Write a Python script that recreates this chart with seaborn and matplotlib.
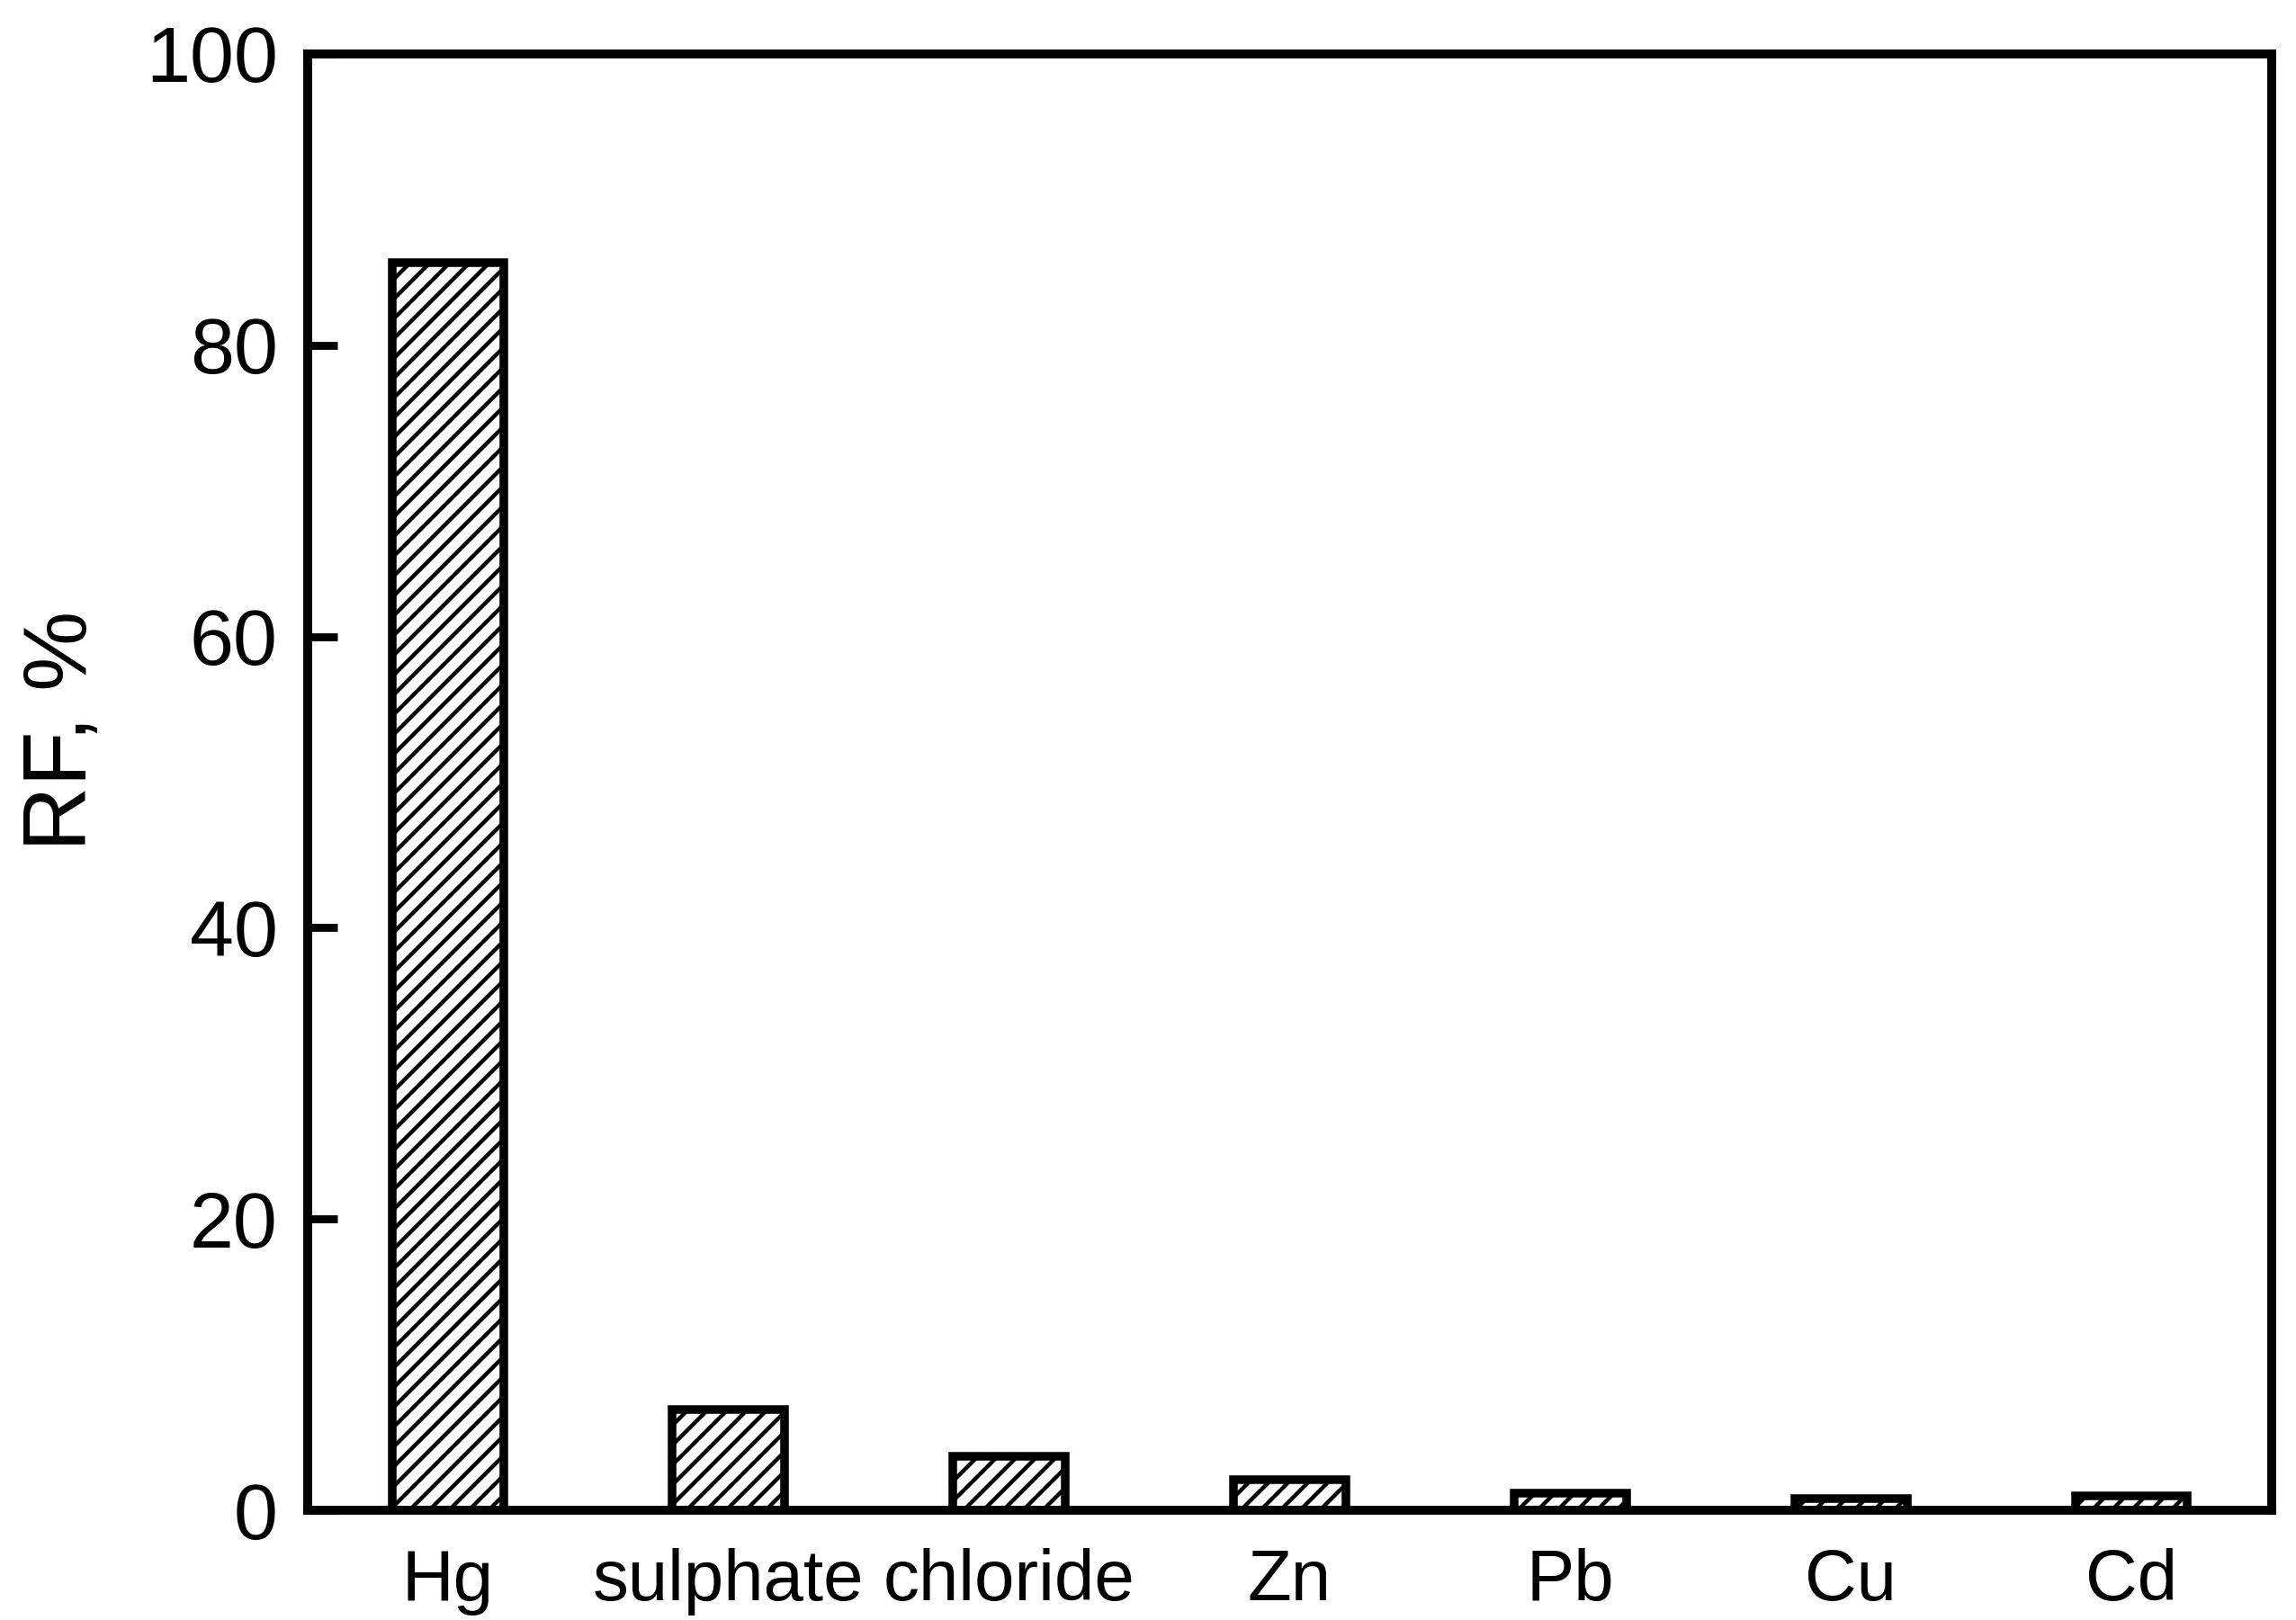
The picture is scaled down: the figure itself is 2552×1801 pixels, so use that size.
import numpy as np
import pandas as pd
import seaborn as sns
import matplotlib
matplotlib.use('Agg')
import matplotlib.pyplot as plt

# values
categories = ['Hg', 'sulphate', 'chloride', 'Zn', 'Pb', 'Cu', 'Cd']
rf_values = [85.7, 6.9, 3.7, 2.1, 1.2, 0.8, 1.0]
y_ticks = [0, 20, 40, 60, 80, 100]

df = pd.DataFrame({'item': categories, 'RF': rf_values})

sns.set_style('ticks')
plt.rcParams['font.family'] = ['Liberation Sans', 'DejaVu Sans']
plt.rcParams['hatch.linewidth'] = 1.2
plt.rcParams['hatch.color'] = 'black'
plt.rcParams['text.color'] = 'black'
plt.rcParams['axes.labelcolor'] = 'black'
plt.rcParams['xtick.color'] = 'black'
plt.rcParams['ytick.color'] = 'black'

dpi = 264
fig = plt.figure(figsize=(2552 / dpi, 1801 / dpi), dpi=dpi)
ax = fig.add_axes([0.134, 0.0677, 0.8554, 0.8990])

sns.barplot(data=df, x='item', y='RF', ax=ax, color='white', saturation=1,
            edgecolor='black', linewidth=2.6, width=0.4, hatch='////')

ax.set_xlim(-0.5, 6.5)
ax.set_ylim(0, 100)
ax.set_yticks(y_ticks)
ax.set_yticklabels([str(t) for t in y_ticks])

for side in ['left', 'right', 'top', 'bottom']:
    ax.spines[side].set_visible(True)
    ax.spines[side].set_linewidth(2.7)
    ax.spines[side].set_color('black')

ax.tick_params(axis='y', direction='in', length=9, width=2.4, pad=9,
               labelsize=24, left=True, right=False, colors='black')
ax.tick_params(axis='x', length=0, pad=11.5, labelsize=21.8, colors='black')

ax.set_xlabel('')
ax.set_ylabel('RF, %', fontsize=27.3, color='black')
ax.yaxis.set_label_coords(-0.103, 0.535)

fig.savefig('out.png', dpi=dpi)
plt.close(fig)
